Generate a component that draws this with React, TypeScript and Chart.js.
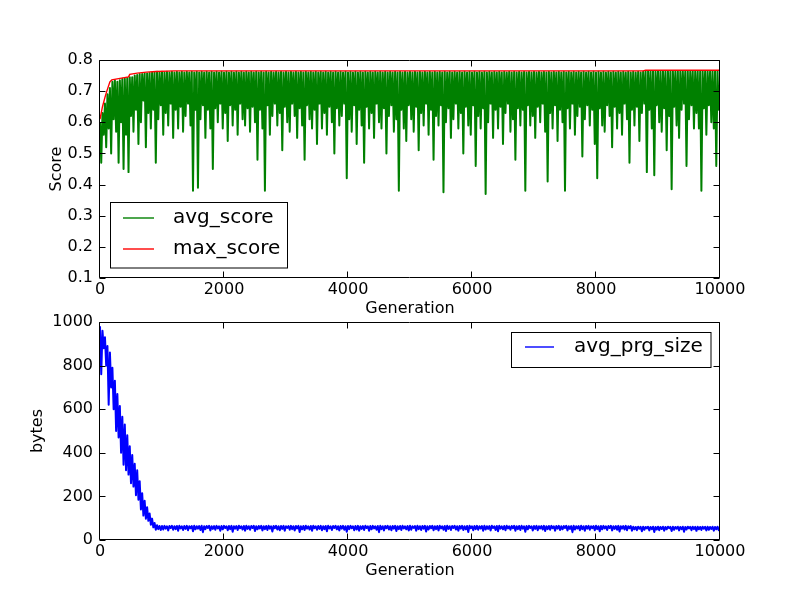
import React, { useEffect, useRef } from "react";
import { Chart, registerables } from "chart.js";

Chart.register(...registerables);

// one kept sample every STEP generations
const STEP = 20;

const avgScore = [
  0.6, 0.47, 0.63, 0.56, 0.66, 0.52, 0.69, 0.58, 0.71, 0.5, 0.73, 0.61, 0.735, 0.57, 0.73, 0.47, 0.735, 0.6, 0.74, 0.45,
  0.74, 0.56, 0.742, 0.44, 0.745, 0.62, 0.745, 0.57, 0.75, 0.64, 0.752, 0.53, 0.755, 0.6, 0.755, 0.67, 0.757, 0.52, 0.757, 0.63,
  0.758, 0.58, 0.76, 0.64, 0.76, 0.47, 0.762, 0.61, 0.76, 0.655, 0.762, 0.56, 0.76, 0.63, 0.762, 0.59, 0.76, 0.66, 0.762, 0.55,
  0.76, 0.64, 0.762, 0.58, 0.76, 0.65, 0.762, 0.57, 0.76, 0.62, 0.762, 0.66, 0.76, 0.59, 0.762, 0.38, 0.76, 0.64, 0.762, 0.39,
  0.76, 0.61, 0.762, 0.655, 0.76, 0.55, 0.762, 0.64, 0.76, 0.58, 0.762, 0.45, 0.76, 0.645, 0.762, 0.6, 0.76, 0.66, 0.762, 0.58,
  0.76, 0.63, 0.762, 0.54, 0.76, 0.655, 0.762, 0.59, 0.76, 0.64, 0.762, 0.56, 0.76, 0.66, 0.762, 0.61, 0.76, 0.59, 0.762, 0.645,
  0.76, 0.57, 0.762, 0.65, 0.76, 0.6, 0.762, 0.48, 0.76, 0.64, 0.762, 0.58, 0.76, 0.38, 0.762, 0.655, 0.76, 0.56, 0.762, 0.62,
  0.76, 0.66, 0.762, 0.59, 0.76, 0.63, 0.762, 0.51, 0.76, 0.65, 0.762, 0.6, 0.76, 0.57, 0.762, 0.66, 0.76, 0.62, 0.762, 0.55,
  0.76, 0.645, 0.762, 0.59, 0.76, 0.48, 0.762, 0.655, 0.76, 0.61, 0.762, 0.58, 0.76, 0.64, 0.762, 0.53, 0.76, 0.66, 0.762, 0.58,
  0.76, 0.63, 0.762, 0.56, 0.76, 0.65, 0.762, 0.6, 0.76, 0.5, 0.762, 0.645, 0.76, 0.59, 0.762, 0.62, 0.76, 0.66, 0.762, 0.42,
  0.76, 0.61, 0.762, 0.57, 0.76, 0.655, 0.762, 0.53, 0.76, 0.64, 0.762, 0.59, 0.76, 0.47, 0.762, 0.65, 0.76, 0.58, 0.762, 0.63,
  0.76, 0.55, 0.762, 0.66, 0.76, 0.6, 0.762, 0.58, 0.76, 0.645, 0.762, 0.5, 0.76, 0.62, 0.762, 0.655, 0.76, 0.57, 0.762, 0.61,
  0.76, 0.38, 0.762, 0.64, 0.76, 0.58, 0.762, 0.54, 0.76, 0.655, 0.762, 0.61, 0.76, 0.57, 0.762, 0.65, 0.76, 0.51, 0.762, 0.63,
  0.76, 0.59, 0.762, 0.66, 0.76, 0.56, 0.762, 0.64, 0.76, 0.48, 0.762, 0.62, 0.76, 0.59, 0.762, 0.655, 0.76, 0.375, 0.762, 0.6,
  0.76, 0.645, 0.762, 0.55, 0.76, 0.61, 0.762, 0.66, 0.76, 0.58, 0.762, 0.63, 0.76, 0.5, 0.762, 0.65, 0.76, 0.59, 0.762, 0.56,
  0.76, 0.655, 0.762, 0.46, 0.76, 0.62, 0.762, 0.58, 0.76, 0.645, 0.762, 0.37, 0.76, 0.6, 0.762, 0.66, 0.76, 0.55, 0.762, 0.64,
  0.76, 0.58, 0.762, 0.65, 0.76, 0.53, 0.762, 0.63, 0.76, 0.66, 0.762, 0.57, 0.76, 0.61, 0.762, 0.48, 0.76, 0.645, 0.762, 0.59,
  0.76, 0.64, 0.762, 0.38, 0.76, 0.655, 0.762, 0.59, 0.76, 0.62, 0.762, 0.55, 0.76, 0.65, 0.762, 0.6, 0.76, 0.66, 0.762, 0.57,
  0.76, 0.41, 0.762, 0.63, 0.76, 0.58, 0.762, 0.655, 0.76, 0.54, 0.762, 0.64, 0.76, 0.6, 0.762, 0.38, 0.76, 0.645, 0.762, 0.58,
  0.76, 0.66, 0.762, 0.56, 0.76, 0.62, 0.762, 0.65, 0.76, 0.49, 0.762, 0.61, 0.76, 0.655, 0.762, 0.59, 0.76, 0.64, 0.762, 0.53,
  0.76, 0.42, 0.762, 0.645, 0.76, 0.59, 0.762, 0.57, 0.76, 0.655, 0.762, 0.62, 0.76, 0.52, 0.762, 0.65, 0.76, 0.58, 0.762, 0.63,
  0.76, 0.56, 0.762, 0.66, 0.76, 0.61, 0.762, 0.47, 0.76, 0.64, 0.762, 0.59, 0.76, 0.65, 0.762, 0.54, 0.76, 0.63, 0.762, 0.66,
  0.763, 0.44, 0.764, 0.64, 0.763, 0.58, 0.764, 0.43, 0.763, 0.655, 0.764, 0.6, 0.763, 0.57, 0.764, 0.645, 0.763, 0.51, 0.764, 0.62,
  0.763, 0.385, 0.764, 0.65, 0.763, 0.59, 0.764, 0.55, 0.763, 0.64, 0.764, 0.66, 0.763, 0.46, 0.764, 0.61, 0.763, 0.655, 0.764, 0.58,
  0.763, 0.63, 0.764, 0.58, 0.763, 0.38, 0.764, 0.645, 0.763, 0.56, 0.764, 0.655, 0.763, 0.6, 0.764, 0.58, 0.763, 0.46, 0.764, 0.64,
  0.66,
];

const maxGen = [0, 40, 80, 110, 160, 190, 300, 460, 480, 600, 750, 900, 1200, 8760, 8800, 10000];
const maxScore = [0.61, 0.65, 0.68, 0.7, 0.73, 0.736, 0.74, 0.746, 0.754, 0.758, 0.761, 0.763, 0.765, 0.765, 0.767, 0.767];

const avgPrgSize = [
  980, 760, 960, 880, 930, 800, 890, 620, 860, 700, 790, 600, 730, 500, 670, 470, 615, 400, 565, 345,
  530, 320, 480, 300, 430, 260, 390, 245, 350, 205, 320, 185, 270, 140, 215, 112, 180, 98, 150, 88,
  122, 70, 98, 58, 78, 47, 68, 50, 64, 46,
  64, 48, 65, 52, 63, 44, 64, 55, 65, 47, 63, 50, 64, 42, 65, 53, 63, 46, 64, 51,
  65, 45, 63, 54, 64, 40, 65, 49, 63, 52, 64, 46, 65, 36, 63, 50, 64, 55, 65, 44,
  63, 51, 64, 47, 65, 53, 63, 42, 64, 49, 65, 55, 63, 45, 64, 50, 65, 38, 63, 52,
  64, 46, 65, 54, 63, 48, 64, 43, 65, 51, 63, 47, 64, 55, 65, 41, 63, 49, 64, 53,
  65, 44, 63, 50, 64, 46, 65, 52, 63, 39, 64, 54, 65, 48, 63, 45, 64, 51, 65, 43,
  63, 55, 64, 47, 65, 50, 63, 44, 64, 53, 65, 37, 63, 49, 64, 46, 65, 52, 63, 48,
  64, 42, 65, 54, 63, 47, 64, 51, 65, 45, 63, 50, 64, 40, 65, 53, 63, 46, 64, 55,
  65, 49, 63, 44, 64, 52, 65, 47, 63, 38, 64, 50, 65, 54, 63, 45, 64, 48, 65, 43,
  63, 51, 64, 46, 65, 55, 63, 42, 64, 49, 65, 53, 63, 47, 64, 36, 65, 50, 63, 44,
  64, 54, 65, 48, 63, 45, 64, 52, 65, 41, 63, 50, 64, 46, 65, 53, 63, 49, 64, 44,
  65, 47, 63, 55, 64, 43, 65, 50, 63, 46, 64, 52, 65, 39, 63, 48, 64, 54, 65, 45,
  63, 50, 64, 44, 65, 53, 63, 47, 64, 41, 65, 51, 63, 46, 64, 55, 65, 48, 63, 43,
  64, 52, 65, 46, 63, 49, 64, 37, 65, 54, 63, 45, 64, 50, 65, 47, 63, 53, 64, 42,
  65, 48, 63, 51, 64, 44, 65, 55, 63, 46, 64, 40, 65, 52, 63, 49, 64, 45, 65, 53,
  63, 47, 64, 54, 65, 42, 63, 50, 64, 46, 65, 52, 63, 38, 64, 49, 65, 55, 63, 44,
  64, 51, 65, 45, 63, 53, 64, 48, 65, 41, 63, 50, 64, 47, 65, 54, 63, 43, 64, 52,
  65, 46, 63, 49, 64, 55, 65, 44, 63, 51, 64, 36, 65, 48, 63, 53, 64, 45, 65, 50,
  63, 42, 64, 52, 65, 47, 63, 54, 64, 45, 65, 50, 63, 40, 64, 49, 65, 53, 63, 46,
  64, 55, 65, 44, 63, 51, 64, 47, 65, 39, 63, 52, 64, 48, 65, 45, 63, 54, 64, 43,
  61, 49, 60, 45, 61, 52, 60, 40, 61, 47, 60, 53, 61, 44, 60, 50, 61, 37, 60, 48,
  61, 45, 60, 51, 61, 43, 60, 49, 61, 54, 60, 41, 61, 47, 60, 52, 61, 44, 60, 50,
  61, 38, 60, 48, 61, 53, 60, 45, 61, 50, 60, 42, 61, 49, 60, 46, 61, 52, 60, 44,
  61, 47, 60, 51, 61, 43, 60, 49, 61, 45, 58,
];

const genTicks = [0, 2000, 4000, 6000, 8000, 10000];
const scoreTicks = [0.1, 0.2, 0.3, 0.4, 0.5, 0.6, 0.7, 0.8];
const sizeTicks = [0, 200, 400, 600, 800, 1000];

const FONT = "DejaVu Sans";

// matplotlib style: box around the axes and ticks pointing inwards on all sides
const framePlugin = {
  id: "frame",
  afterDatasetsDraw(chart: any) {
    const { ctx, chartArea: a, scales } = chart;
    const l = Math.round(a.left) - 0.5;
    const r = Math.round(a.right) - 0.5;
    const t = Math.round(a.top) + 0.5;
    const b = Math.round(a.bottom) - 0.5;
    const len = 6;
    ctx.save();
    ctx.strokeStyle = "#000";
    ctx.lineWidth = 1;
    ctx.beginPath();
    ctx.rect(l, t, r - l, b - t);
    scales.x.ticks.forEach((tk: any) => {
      const px = Math.round(scales.x.getPixelForValue(tk.value)) - 0.5;
      ctx.moveTo(px, b);
      ctx.lineTo(px, b - len);
      ctx.moveTo(px, t);
      ctx.lineTo(px, t + len);
    });
    scales.y.ticks.forEach((tk: any) => {
      const py = Math.round(scales.y.getPixelForValue(tk.value)) + 0.5;
      ctx.moveTo(l, py);
      ctx.lineTo(l + len, py);
      ctx.moveTo(r, py);
      ctx.lineTo(r - len, py);
    });
    ctx.stroke();
    ctx.restore();
  },
};

const legendPlugin = {
  id: "boxLegend",
  afterDraw(chart: any, _args: any, opts: any) {
    if (!opts || !opts.box) return;
    const { ctx } = chart;
    const [bx, by, bw, bh] = opts.box;
    ctx.save();
    ctx.fillStyle = "#fff";
    ctx.fillRect(bx, by, bw, bh);
    ctx.strokeStyle = "#000";
    ctx.lineWidth = 1;
    ctx.strokeRect(bx, by, bw, bh);
    ctx.font = `20px "${FONT}"`;
    ctx.textBaseline = "middle";
    chart.data.datasets.forEach((ds: any, i: number) => {
      const y = opts.rows[i];
      ctx.strokeStyle = ds.borderColor;
      ctx.lineWidth = 1.4;
      ctx.beginPath();
      ctx.moveTo(opts.lineX[0], y);
      ctx.lineTo(opts.lineX[1], y);
      ctx.stroke();
      ctx.fillStyle = "#000";
      ctx.fillText(ds.label, opts.textX, y);
    });
    ctx.restore();
  },
};

const tickFont = { family: FONT, size: 16 };

function xAxis() {
  return {
    type: "linear",
    min: 0,
    max: 10000,
    grid: { display: false, drawTicks: false },
    border: { display: false },
    afterBuildTicks: (s: any) => {
      s.ticks = genTicks.map((v) => ({ value: v }));
    },
    afterFit: (s: any) => {
      s.height = 40;
    },
    ticks: { color: "#000", font: tickFont, padding: 2, maxRotation: 0, callback: (v: any) => String(v) },
    title: { display: true, text: "Generation", color: "#000", font: tickFont, padding: 0 },
  };
}

function yAxis(title: string, min: number, max: number, ticks: number[], width: number, digits: number) {
  return {
    type: "linear",
    min,
    max,
    grid: { display: false, drawTicks: false },
    border: { display: false },
    afterBuildTicks: (s: any) => {
      s.ticks = ticks.map((v) => ({ value: v }));
    },
    afterFit: (s: any) => {
      s.width = width;
    },
    ticks: { color: "#000", font: tickFont, padding: 7, callback: (v: any) => Number(v).toFixed(digits) },
    title: { display: true, text: title, color: "#000", font: tickFont, padding: 0 },
  };
}

const noisyLine = { borderWidth: 2, borderJoinStyle: "round", borderCapStyle: "butt", pointRadius: 0 };

export default function App() {
  const topRef = useRef<HTMLCanvasElement>(null);
  const bottomRef = useRef<HTMLCanvasElement>(null);

  useEffect(() => {
    if (!topRef.current || !bottomRef.current) return;

    const scoreChart = new Chart(topRef.current, {
      type: "line",
      data: {
        datasets: [
          {
            label: "avg_score",
            data: avgScore.map((v, i) => ({ x: i * STEP, y: v })),
            borderColor: "#008000",
            ...noisyLine,
            order: 2,
          },
          {
            label: "max_score",
            data: maxScore.map((v, i) => ({ x: maxGen[i], y: v })),
            borderColor: "#ff0000",
            borderWidth: 1.4,
            pointRadius: 0,
            order: 1,
          },
        ],
      },
      options: {
        animation: false,
        responsive: false,
        devicePixelRatio: 1,
        layout: { padding: { left: 47, right: 80, top: 60, bottom: 2 } },
        scales: {
          x: xAxis(),
          y: yAxis("Score", 0.1, 0.8, scoreTicks, 53, 1),
        },
        plugins: {
          legend: { display: false },
          tooltip: { enabled: false },
          boxLegend: { box: [110.5, 202.5, 177, 65.5], rows: [218, 249], lineX: [123, 154], textX: 173 },
        },
      } as any,
      plugins: [framePlugin, legendPlugin],
    });

    const sizeChart = new Chart(bottomRef.current, {
      type: "line",
      data: {
        datasets: [
          {
            label: "avg_prg_size",
            data: avgPrgSize.map((v, i) => ({ x: i * STEP, y: v })),
            borderColor: "#0000ff",
            ...noisyLine,
          },
        ],
      },
      options: {
        animation: false,
        responsive: false,
        devicePixelRatio: 1,
        layout: { padding: { left: 28, right: 80, top: 22, bottom: 20 } },
        scales: {
          x: xAxis(),
          y: yAxis("bytes", 0, 1000, sizeTicks, 72, 0),
        },
        plugins: {
          legend: { display: false },
          tooltip: { enabled: false },
          boxLegend: { box: [511.5, 32.5, 199.5, 35], rows: [47], lineX: [525, 554], textX: 574 },
        },
      } as any,
      plugins: [framePlugin, legendPlugin],
    });

    return () => {
      scoreChart.destroy();
      sizeChart.destroy();
    };
  }, []);

  return (
    <div style={{ position: "absolute", left: 0, top: 0, width: 800, height: 600, background: "#fff" }}>
      <canvas ref={topRef} width={800} height={320} style={{ position: "absolute", left: 0, top: 0, width: 800, height: 320 }} />
      <canvas ref={bottomRef} width={800} height={300} style={{ position: "absolute", left: 0, top: 300, width: 800, height: 300 }} />
    </div>
  );
}
